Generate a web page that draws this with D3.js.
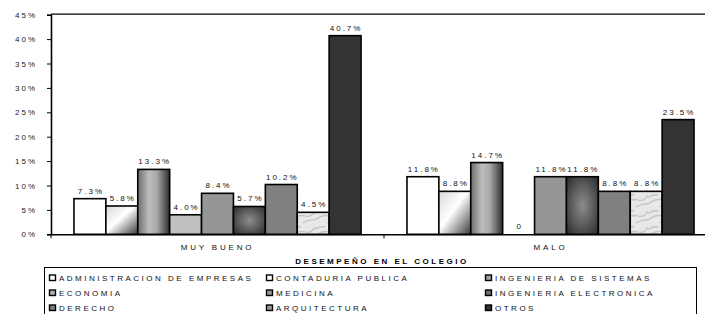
<!DOCTYPE html>
<html>
<head>
<meta charset="utf-8">
<script src="https://cdn.jsdelivr.net/npm/d3@7"></script>
<style>
  body { margin: 0; background: #fff; }
  svg { display: block; font-family: "Liberation Sans", Arial, sans-serif; }
</style>
</head>
<body>
<div id="chart"></div>
<script>
const categories = ["MUY BUENO", "MALO"];
const series = ["ADMINISTRACION DE EMPRESAS", "CONTADURIA PUBLICA", "INGENIERIA DE SISTEMAS",
  "ECONOMIA", "MEDICINA", "INGENIERIA ELECTRONICA", "DERECHO", "ARQUITECTURA", "OTROS"];
const muyBueno = [7.3, 5.8, 13.3, 4.0, 8.4, 5.7, 10.2, 4.5, 40.7];
const malo = [11.8, 8.8, 14.7, 0, 11.8, 11.8, 8.8, 8.8, 23.5];
const yTicks = [0, 5, 10, 15, 20, 25, 30, 35, 40, 45];
const axisTitle = "DESEMPEÑO EN EL COLEGIO";

const values = [muyBueno, malo];
const fills = ["#ffffff", "url(#gContaduria)", "url(#gSistemas)", "#c0c0c0", "#969696",
  "url(#gElectronica)", "#808080", "url(#pArquitectura)", "#333333"];
const swatch = ["#ffffff", "#ffffff", "#a0a0a0", "#b0b0b0", "#969696", "#707070", "#808080", "#999999", "#333333"];

const W = 705, H = 314;
const plot = {left: 51, top: 14.7, bottom: 234.3, right: 717};

const svg = d3.select("#chart").append("svg")
  .attr("width", W).attr("height", H);

// fills
const defs = svg.append("defs");
const g1 = defs.append("linearGradient").attr("id", "gContaduria")
  .attr("x1", 0).attr("y1", 0).attr("x2", 1).attr("y2", 1);
g1.append("stop").attr("offset", 0).attr("stop-color", "#d8d8d8");
g1.append("stop").attr("offset", 0.45).attr("stop-color", "#ffffff");
g1.append("stop").attr("offset", 1).attr("stop-color", "#3a3a3a");

const g2 = defs.append("linearGradient").attr("id", "gSistemas");
g2.append("stop").attr("offset", 0).attr("stop-color", "#6e6e6e");
g2.append("stop").attr("offset", 0.35).attr("stop-color", "#bdbdbd");
g2.append("stop").attr("offset", 0.6).attr("stop-color", "#a8a8a8");
g2.append("stop").attr("offset", 1).attr("stop-color", "#2e2e2e");

const g3 = defs.append("radialGradient").attr("id", "gElectronica")
  .attr("cx", 0.5).attr("cy", 0.5).attr("r", 0.7);
g3.append("stop").attr("offset", 0).attr("stop-color", "#8c8c8c");
g3.append("stop").attr("offset", 0.5).attr("stop-color", "#5c5c5c");
g3.append("stop").attr("offset", 1).attr("stop-color", "#2a2a2a");

const pat = defs.append("pattern").attr("id", "pArquitectura")
  .attr("patternUnits", "userSpaceOnUse").attr("width", 24).attr("height", 16);
pat.append("rect").attr("width", 24).attr("height", 16).attr("fill", "#e8e8e8");
pat.append("path").attr("d", "M0 12 Q8 6 14 8 T24 3 M0 5 Q6 2 10 3 M12 15 Q18 11 24 12")
  .attr("stroke", "#c4c4c4").attr("stroke-width", 1.3).attr("fill", "none");

// scales
const x0 = d3.scaleBand().domain(categories).range([plot.left, plot.right]);
const x1 = d3.scaleBand().domain(series).range([0, x0.bandwidth()]).paddingOuter(0.72);
const y = d3.scaleLinear().domain([0, 45]).range([plot.bottom, plot.top]);

// frame top line
svg.append("line")
  .attr("x1", plot.left).attr("x2", W).attr("y1", plot.top - 0.5).attr("y2", plot.top - 0.5)
  .attr("stroke", "#000").attr("stroke-width", 1.3);

// y axis
const yAxis = svg.append("g")
  .attr("transform", `translate(${plot.left},0)`)
  .call(d3.axisLeft(y).tickValues(yTicks).tickSize(4).tickPadding(10).tickFormat(d => d + "%"));
yAxis.select(".domain").attr("stroke", "#000").attr("stroke-width", 1.6);
yAxis.selectAll(".tick line").attr("stroke", "#000");
yAxis.selectAll(".tick text")
  .attr("font-size", 8).attr("letter-spacing", 2).attr("fill", "#222")
  .attr("font-family", "Liberation Sans, Arial, sans-serif");

// bars
const groups = svg.selectAll(".cat")
  .data(categories)
  .enter().append("g")
  .attr("class", "cat")
  .attr("transform", d => `translate(${x0(d)},0)`);

groups.selectAll("rect")
  .data((d, i) => values[i].map((v, j) => ({s: series[j], v: v, j: j})))
  .enter().append("rect")
  .filter(d => d.v > 0)
  .attr("x", d => x1(d.s))
  .attr("y", d => y(d.v))
  .attr("width", x1.bandwidth())
  .attr("height", d => y(0) - y(d.v))
  .attr("fill", d => fills[d.j])
  .attr("stroke", "#000")
  .attr("stroke-width", 1.6);

groups.selectAll(".labels")
  .data((d, i) => values[i].map((v, j) => ({s: series[j], v: v})))
  .enter().append("text")
  .attr("class", "labels")
  .attr("x", d => x1(d.s) + x1.bandwidth() / 2 + 1)
  .attr("y", d => y(d.v) - 5)
  .attr("text-anchor", "middle")
  .attr("font-size", 8)
  .attr("letter-spacing", 2)
  .attr("fill", "#111")
  .text(d => d.v === 0 ? "0" : d.v.toFixed(1) + "%");

// x axis
const xAxis = svg.append("g")
  .attr("transform", `translate(0,${plot.bottom})`)
  .call(d3.axisBottom(x0).tickSize(0).tickPadding(10));
xAxis.select(".domain").attr("stroke", "#000").attr("stroke-width", 1.6);
xAxis.selectAll(".tick text")
  .attr("font-size", 8).attr("letter-spacing", 2.8).attr("fill", "#111")
  .attr("font-family", "Liberation Sans, Arial, sans-serif");
xAxis.selectAll(".sep")
  .data(categories)
  .enter().append("line")
  .attr("x1", d => x0(d)).attr("x2", d => x0(d))
  .attr("y1", 0).attr("y2", 4)
  .attr("stroke", "#000");

svg.append("text")
  .attr("x", 382).attr("y", 264)
  .attr("text-anchor", "middle")
  .attr("font-size", 8)
  .attr("font-weight", "bold")
  .attr("letter-spacing", 2.5)
  .attr("fill", "#000")
  .text(axisTitle);

// legend
const legend = svg.append("g");
legend.append("rect")
  .attr("x", 44.5).attr("y", 267.5).attr("width", 652).attr("height", 60)
  .attr("fill", "none").attr("stroke", "#000").attr("stroke-width", 1);

const legCols = [49, 266, 485];
const legRows = [278, 293, 308];
const items = legend.selectAll(".item")
  .data(series)
  .enter().append("g")
  .attr("class", "item")
  .attr("transform", (d, i) => `translate(${legCols[i % 3]},${legRows[Math.floor(i / 3)]})`);

items.append("rect")
  .attr("x", 0.5).attr("y", -3).attr("width", 6).attr("height", 5.5)
  .attr("fill", (d, i) => swatch[i])
  .attr("stroke", "#000").attr("stroke-width", 1.4);

items.append("text")
  .attr("x", 10).attr("y", 3)
  .attr("font-size", 8)
  .attr("letter-spacing", 2.5)
  .attr("fill", "#111")
  .text(d => d);
</script>
</body>
</html>
